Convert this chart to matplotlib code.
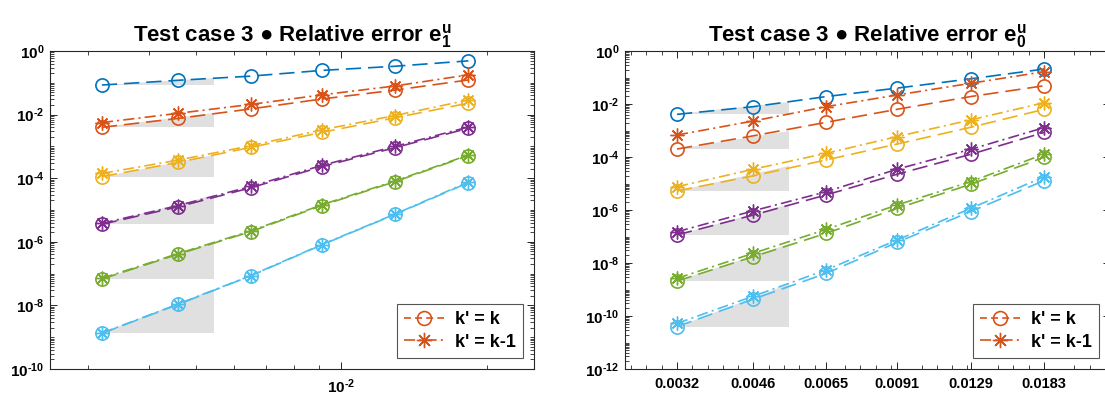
import numpy as np
import matplotlib
matplotlib.use("Agg")
import matplotlib.pyplot as plt
from matplotlib.ticker import FixedLocator, FuncFormatter, NullFormatter, FixedFormatter, LogLocator
from matplotlib.lines import Line2D

plt.rcParams['font.family'] = ['Liberation Sans', 'DejaVu Sans']
plt.rcParams['mathtext.fontset'] = 'custom'
plt.rcParams['mathtext.rm'] = 'Liberation Sans'
plt.rcParams['mathtext.bf'] = 'Liberation Sans:bold'
plt.rcParams['mathtext.it'] = 'Liberation Sans:italic'
plt.rcParams['lines.scale_dashes'] = False

# ---------------- data ----------------
h = [0.0032, 0.0046, 0.0065, 0.0091, 0.0129, 0.0183]
h_labels = ['0.0032', '0.0046', '0.0065', '0.0091', '0.0129', '0.0183']

# Left panel: relative error e_1^u ; k' = k (circles), k' = k-1 (stars)
e1_kk = {
    1: [8.51e-2, 1.20e-1, 1.62e-1, 2.45e-1, 3.31e-1, 4.90e-1],
    2: [3.98e-3, 7.59e-3, 1.51e-2, 3.09e-2, 5.89e-2, 1.23e-1],
    3: [1.12e-4, 3.16e-4, 9.33e-4, 2.75e-3, 7.94e-3, 2.29e-2],
    4: [3.55e-6, 1.26e-5, 5.01e-5, 2.29e-4, 9.12e-4, 3.72e-3],
    5: [6.76e-8, 4.07e-7, 2.09e-6, 1.38e-5, 7.76e-5, 5.13e-4],
    6: [1.32e-9, 1.07e-8, 8.51e-8, 7.94e-7, 7.24e-6, 7.24e-5],
}
e1_km1 = {
    2: [5.62e-3, 1.10e-2, 2.09e-2, 4.17e-2, 7.94e-2, 1.78e-1],
    3: [1.41e-4, 3.72e-4, 1.05e-3, 3.31e-3, 9.33e-3, 2.88e-2],
    4: [3.80e-6, 1.38e-5, 5.50e-5, 2.51e-4, 1.00e-3, 4.07e-3],
    5: [7.08e-8, 4.27e-7, 2.19e-6, 1.45e-5, 8.13e-5, 5.37e-4],
    6: [1.35e-9, 1.10e-8, 8.71e-8, 8.13e-7, 7.41e-6, 7.59e-5],
}
# Right panel: relative error e_0^u
e0_kk = {
    1: [4.07e-3, 7.94e-3, 1.91e-2, 3.98e-2, 8.91e-2, 2.09e-1],
    2: [2.00e-4, 6.31e-4, 2.04e-3, 6.31e-3, 1.91e-2, 4.90e-2],
    3: [5.25e-6, 1.95e-5, 7.76e-5, 3.09e-4, 1.32e-3, 6.31e-3],
    4: [1.15e-7, 6.46e-7, 3.72e-6, 2.24e-5, 1.26e-4, 8.51e-4],
    5: [2.09e-9, 1.74e-8, 1.32e-7, 1.15e-6, 9.33e-6, 9.77e-5],
    6: [3.98e-11, 4.37e-10, 4.07e-9, 6.03e-8, 8.71e-7, 1.29e-5],
}
e0_km1 = {
    2: [6.76e-4, 2.29e-3, 7.94e-3, 2.19e-2, 6.03e-2, 1.66e-1],
    3: [7.59e-6, 3.47e-5, 1.38e-4, 5.89e-4, 2.51e-3, 1.12e-2],
    4: [1.51e-7, 9.33e-7, 4.90e-6, 3.47e-5, 1.95e-4, 1.29e-3],
    5: [2.63e-9, 2.34e-8, 1.86e-7, 1.55e-6, 1.17e-5, 1.29e-4],
    6: [5.25e-11, 5.62e-10, 5.50e-9, 7.41e-8, 1.15e-6, 1.82e-5],
}
rates_left = {1: 1, 2: 2, 3: 3, 4: 4, 5: 5, 6: 6}
rates_right = {1: 2, 2: 3, 3: 4, 4: 5, 5: 6, 6: 7}
tri_x_end = 0.00545

colors = {1: '#0072BD', 2: '#D95319', 3: '#EDB120', 4: '#7E2F8E', 5: '#77AC30', 6: '#4DBEEE'}
legend_labels = ["k' = k", "k' = k-1"]

DASH = (0, (11, 5))
DASHDOT = (0, (8, 3, 1.5, 3))
AST = (8, 2, 0)

fig = plt.figure(figsize=(11.05, 3.97), dpi=100)
axL = fig.add_axes([50 / 1105, 28 / 397, 484 / 1105, 318 / 397])
axR = fig.add_axes([625 / 1105, 28 / 397, 485 / 1105, 318 / 397])


def _pow_label(v, p):
    e = int(round(np.log10(v)))
    if e < 0:
        return '$\\mathbf{10^{\u2010%d}}$' % (-e)
    return '$\\mathbf{10^{%d}}$' % e


bold_pow = FuncFormatter(_pow_label)


def draw(ax, kk, km1, rates, ylo):
    for k in kk:
        y0 = kk[k][0]
        p = rates[k]
        ytop = y0 * (tri_x_end / h[0]) ** p
        ax.fill([h[0], tri_x_end, tri_x_end], [y0, y0, ytop], facecolor='#e0e0e0',
                edgecolor='none', zorder=1)
    for k in kk:
        ax.plot(h, kk[k], linestyle=DASH, color=colors[k], lw=1.2, marker='o', ms=9.5,
                mfc='none', mew=1.2, zorder=3)
    for k in km1:
        ax.plot(h, km1[k], linestyle=DASHDOT, color=colors[k], lw=1.2, marker=AST, ms=10,
                mew=1.0, zorder=3)
    ax.set_xscale('log')
    ax.set_yscale('log')
    ax.set_xlim(0.0025, 0.025)
    ax.set_ylim(ylo, 1)
    ax.yaxis.set_major_locator(FixedLocator([10.0 ** e for e in range(int(np.log10(ylo)), 1, 2)]))
    ax.yaxis.set_minor_locator(LogLocator(base=10, subs=np.arange(1, 10), numticks=40))
    ax.yaxis.set_major_formatter(bold_pow)
    ax.yaxis.set_minor_formatter(NullFormatter())
    ax.tick_params(which='both', direction='in', top=True, right=True, colors='#262626',
                   labelcolor='black')
    ax.tick_params(which='major', length=5, width=0.7, labelsize=11, pad=4)
    ax.tick_params(which='minor', length=3, width=0.6)
    for s in ax.spines.values():
        s.set_color('#262626')
        s.set_linewidth(0.8)
    handles = [Line2D([], [], color=colors[2], linestyle=(0, (5, 3)), lw=1.2, marker='o', ms=10,
                      mfc='none', mew=1.2),
               Line2D([], [], color=colors[2], linestyle=DASHDOT, lw=1.2, marker=AST, ms=11, mew=1.0)]
    leg = ax.legend(handles, legend_labels, loc='lower right', handlelength=2.2,
                    handletextpad=0.6, borderpad=0.4, labelspacing=0.3, fancybox=False,
                    framealpha=1, edgecolor='#555555', prop={'weight': 'bold', 'size': 13},
                    borderaxespad=0, bbox_to_anchor=(1 - 11 / 485, 11 / 318))
    leg.get_frame().set_linewidth(0.8)


draw(axL, e1_kk, e1_km1, rates_left, 1e-10)
draw(axR, e0_kk, e0_km1, rates_right, 1e-12)

axL.xaxis.set_major_formatter(bold_pow)
axL.xaxis.set_minor_formatter(NullFormatter())
axL.tick_params(axis='x', which='major', pad=6)

axR.xaxis.set_major_locator(FixedLocator(h))
axR.xaxis.set_major_formatter(FixedFormatter(h_labels))
lh = np.log10(h)
step = lh[1] - lh[0]
minor = []
for i in range(-1, 8):
    base = lh[0] + i * step
    for j in range(1, 5):
        minor.append(10 ** (base + j * step / 5))
axR.xaxis.set_minor_locator(FixedLocator(minor))
axR.xaxis.set_minor_formatter(NullFormatter())
for lab in axR.get_xticklabels():
    lab.set_fontweight('bold')
axR.tick_params(axis='x', which='major', labelsize=10.5, pad=6)

axL.set_title("Test case 3 \u25CF Relative error " + r"$\mathbf{e^{u}_{1}}$", fontsize=16,
              fontweight='bold', pad=7)
axR.set_title("Test case 3 \u25CF Relative error " + r"$\mathbf{e^{u}_{0}}$", fontsize=16,
              fontweight='bold', pad=7)

fig.savefig('out.png', dpi=100)
